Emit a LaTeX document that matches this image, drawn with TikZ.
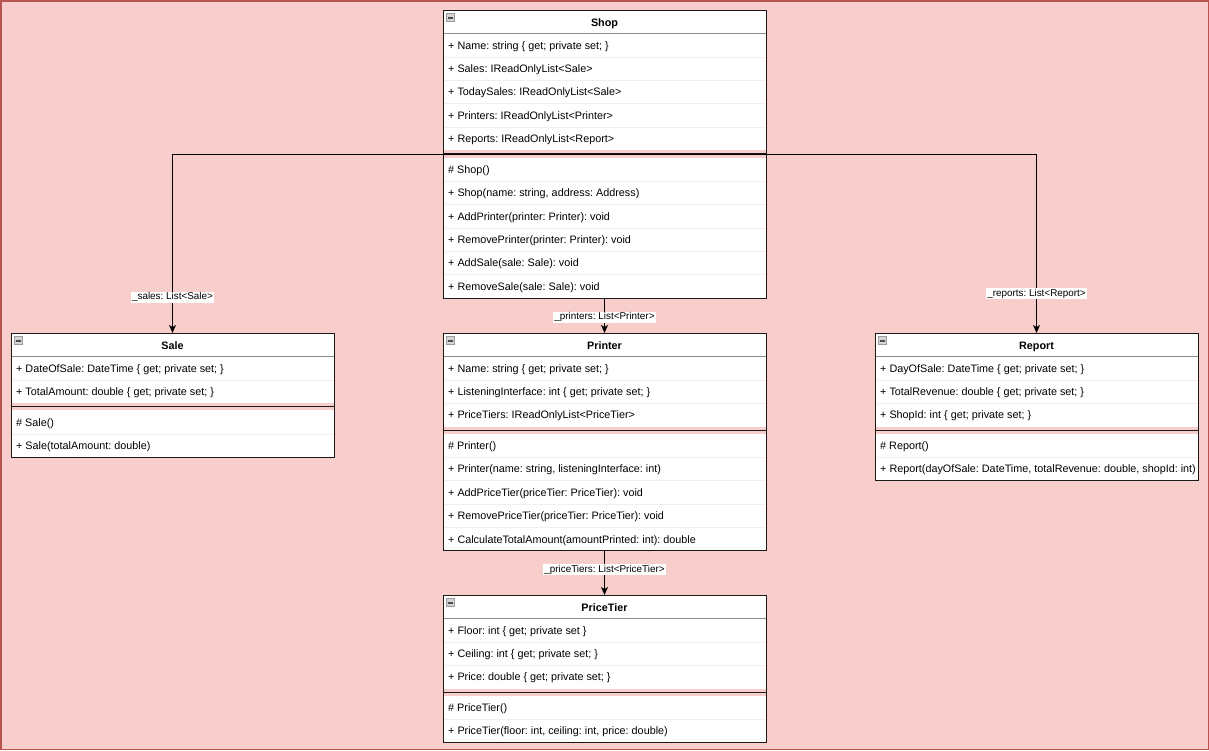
\documentclass[tikz,border=0pt]{standalone}
\usepackage{fontspec}
\setmainfont{Liberation Sans}
\usetikzlibrary{arrows.meta}
\frenchspacing

\definecolor{canvas}{HTML}{F8CECC}
\definecolor{canvasedge}{HTML}{B85450}
\definecolor{rowrule}{HTML}{F6EEEE}
\definecolor{iconfill}{HTML}{D4D4D4}
\definecolor{iconedge}{HTML}{9A9A9A}

\tikzset{
  member/.style={anchor=base west, inner sep=0pt, font=\fontsize{10.8}{13}\selectfont},
  classtitle/.style={anchor=base, inner sep=0pt, font=\fontsize{10.8}{13}\selectfont\bfseries},
  classframe/.style={draw=black!90, line width=1pt, inner sep=0pt, outer sep=0pt, anchor=north west},
  minusicon/.style={draw=iconedge, fill=iconfill, line width=0.6pt, minimum size=8pt, inner sep=0pt},
  conn/.style={draw=black, line width=0.9pt, -{Stealth[length=8pt,width=7pt,inset=2pt]}},
  lbl/.style={fill=white, inner sep=1pt, font=\fontsize{9.9}{11}\selectfont}
}

% UML class box: #1 id, #2 left, #3 top, #4 title,
% #5 attribute count, #6 attributes, #7 method count, #8 methods
\newcommand\umlclass[8]{%
  \pgfmathsetmacro\clsA{#3+23.4}%
  \pgfmathsetmacro\clsB{\clsA+23.4*#5}%
  \pgfmathsetmacro\clsC{\clsB+7.2}%
  \pgfmathsetmacro\clsD{\clsC+23.4*#7}%
  \pgfmathsetmacro\clsR{#2+323}%
  \pgfmathsetmacro\clsH{\clsD-#3}%
  \fill[white] (#2,#3) rectangle (\clsR,\clsB);
  \fill[white] (#2,\clsC) rectangle (\clsR,\clsD);
  \draw[black!45, line width=0.6pt] (#2,\clsA) -- (\clsR,\clsA);
  \foreach \t [count=\i] in {#6} {
    \node[member] (#1-a\i) at ({#2+5},{\clsA+23.4*\i-11.7+4}) {\t};
    \ifnum\i<#5 \draw[rowrule, line width=0.6pt] (#2,{\clsA+23.4*\i}) -- (\clsR,{\clsA+23.4*\i});\fi
  }
  \foreach \t [count=\i] in {#8} {
    \node[member] (#1-m\i) at ({#2+5},{\clsC+23.4*\i-11.7+4}) {\t};
    \ifnum\i<#7 \draw[rowrule, line width=0.6pt] (#2,{\clsC+23.4*\i}) -- (\clsR,{\clsC+23.4*\i});\fi
  }
  \draw[black!90, line width=1.3pt] (#2,{\clsB+3.6}) -- (\clsR,{\clsB+3.6});
  \node[classtitle] (#1-title) at ({#2+161.5},{#3+16}) {#4};
  \node[minusicon] (#1-icon) at ({#2+7.2},{#3+7.6}) {};
  \fill[black!70] ({#2+4.6},{#3+6.7}) rectangle ({#2+9.8},{#3+8.5});
  \node[classframe, minimum width=323pt, minimum height=\clsH pt] (#1) at (#2,#3) {};
}

\begin{document}
\begin{tikzpicture}[x=1pt, y=-1pt]
  \useasboundingbox (0,0) rectangle (1209,750);
  \fill[canvas] (0,0) rectangle (1209,750);
  \draw[canvasedge, line width=1.5pt] (0.75,0.75) rectangle (1208.25,749.25);

  \umlclass{shop}{443}{10}{Shop}{5}{%
    {+ Name: string \{ get; private set; \}},
    {+ Sales: IReadOnlyList<Sale>},
    {+ TodaySales: IReadOnlyList<Sale>},
    {+ Printers: IReadOnlyList<Printer>},
    {+ Reports: IReadOnlyList<Report>}}{6}{%
    {\# Shop()},
    {+ Shop(name: string, address: Address)},
    {+ AddPrinter(printer: Printer): void},
    {+ RemovePrinter(printer: Printer): void},
    {+ AddSale(sale: Sale): void},
    {+ RemoveSale(sale: Sale): void}}

  \umlclass{sale}{11}{333}{Sale}{2}{%
    {+ DateOfSale: DateTime \{ get; private set; \}},
    {+ TotalAmount: double \{ get; private set; \}}}{2}{%
    {\# Sale()},
    {+ Sale(totalAmount: double)}}

  \umlclass{printer}{443}{333}{Printer}{3}{%
    {+ Name: string \{ get; private set; \}},
    {+ ListeningInterface: int \{ get; private set; \}},
    {+ PriceTiers: IReadOnlyList<PriceTier>}}{5}{%
    {\# Printer()},
    {+ Printer(name: string, listeningInterface: int)},
    {+ AddPriceTier(priceTier: PriceTier): void},
    {+ RemovePriceTier(priceTier: PriceTier): void},
    {+ CalculateTotalAmount(amountPrinted: int): double}}

  \umlclass{report}{875}{333}{Report}{3}{%
    {+ DayOfSale: DateTime \{ get; private set; \}},
    {+ TotalRevenue: double \{ get; private set; \}},
    {+ ShopId: int \{ get; private set; \}}}{2}{%
    {\# Report()},
    {+ Report(dayOfSale: DateTime, totalRevenue: double, shopId: int)}}

  \umlclass{pricetier}{443}{595}{PriceTier}{3}{%
    {+ Floor: int \{ get; private set \}},
    {+ Ceiling: int \{ get; private set; \}},
    {+ Price: double \{ get; private set; \}}}{2}{%
    {\# PriceTier()},
    {+ PriceTier(floor: int, ceiling: int, price: double)}}

  % associations
  \draw[conn] (shop.center) -| node[lbl, pos=0.9] {\_sales: List<Sale>} (sale.north);
  \draw[conn] (shop.center) -| node[lbl, pos=0.89] {\_reports: List<Report>} (report.north);
  \draw[conn] (shop.south) -- node[lbl, pos=0.55] {\_printers: List<Printer>} (printer.north);
  \draw[conn] (printer.south) -- node[lbl, pos=0.43] {\_priceTiers: List<PriceTier>} (pricetier.north);
\end{tikzpicture}
\end{document}
